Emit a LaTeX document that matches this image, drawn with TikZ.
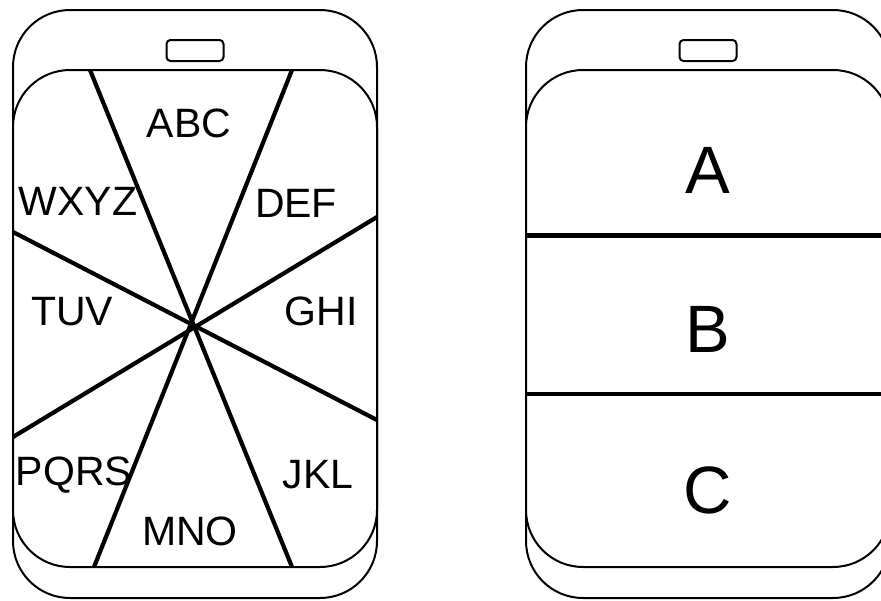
\documentclass[tikz,border=0pt]{standalone}
\usepackage{fontspec}
\setmainfont{Liberation Sans}
\begin{document}
\begin{tikzpicture}[x=1pt,y=-1pt,
		frame/.style={draw=black,line width=2pt,rounded corners=57pt},
		speaker/.style={draw=black,line width=2pt,rounded corners=4pt},
		slice/.style={line width=4.2pt},
		keys/.style={font=\fontsize{41}{49}\selectfont,anchor=base,inner sep=0pt},
		big/.style={font=\fontsize{67}{80}\selectfont,anchor=base,inner sep=0pt}]
		\clip (0,0) rectangle (881,600);
		% left phone: keypad cut in eight slices
		\draw[frame] (13,10) rectangle (377,598);
		\draw[frame,fill=white] (13,70) rectangle (377,567);
		\draw[speaker] (166.5,40) rectangle (223.5,61);
		\coordinate (tl) at (90,70);
		\coordinate (tr) at (292,70);
		\coordinate (bl) at (94,567);
		\coordinate (br) at (292,567);
		\coordinate (lu) at (13,232);
		\coordinate (ll) at (13,437);
		\coordinate (ru) at (377,217);
		\coordinate (rl) at (377,420);
		\draw[slice] (tl) -- (br);
		\draw[slice] (tr) -- (bl);
		\draw[slice] (lu) -- (rl);
		\draw[slice] (ru) -- (ll);
		\node[keys] (abc) at (189,137) {ABC};
		\node[keys] (def) at (296,217) {DEF};
		\node[keys] (ghi) at (321,325) {GHI};
		\node[keys] (jkl) at (318,488) {JKL};
		\node[keys] (mno) at (190,545) {MNO};
		\node[keys] (pqrs) at (74,485) {PQRS};
		\node[keys] (tuv) at (72,325) {TUV};
		\node[keys] (wxyz) at (78,215) {WXYZ};
		% right phone: three rows
		\draw[frame] (526,10) rectangle (890,598);
		\draw[frame,fill=white] (526,70) rectangle (890,567);
		\draw[speaker] (679.5,40) rectangle (736.5,61);
		\coordinate (d1l) at (526,235.5);
		\coordinate (d1r) at (890,235.5);
		\coordinate (d2l) at (526,394);
		\coordinate (d2r) at (890,394);
		\draw[slice] (d1l) -- (d1r);
		\draw[slice] (d2l) -- (d2r);
		\node[big] (rowa) at (708,193) {A};
		\node[big] (rowb) at (708,352) {B};
		\node[big] (rowc) at (708,513) {C};
\end{tikzpicture}
\end{document}
